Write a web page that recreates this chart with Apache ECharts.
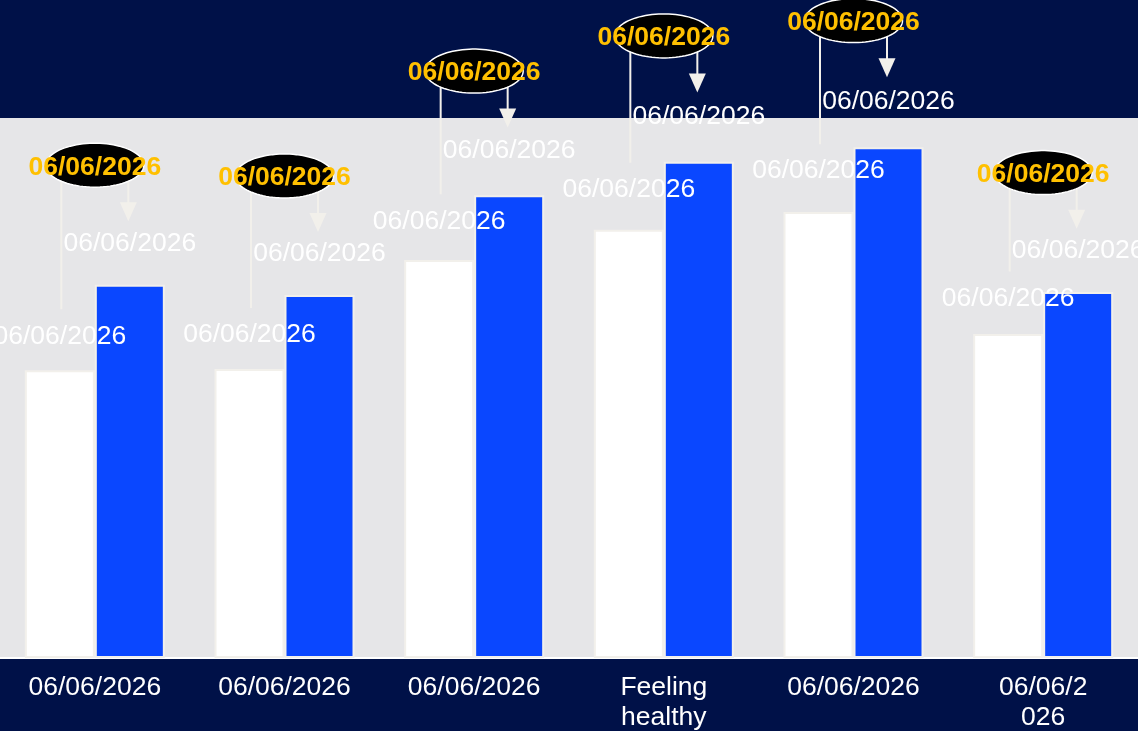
<!DOCTYPE html>
<html><head><meta charset="utf-8">
<script src="https://cdn.jsdelivr.net/npm/echarts@6/dist/echarts.min.js"></script>
<style>html,body{margin:0;padding:0;background:#001148;}#c{width:1138px;height:731px;}</style>
</head><body><div id="c"></div>
<script>
const categories = ['06/06/2026', '06/06/2026', '06/06/2026', 'Feeling\nhealthy', '06/06/2026', '06/06/2\n026'];
const whiteValues = [53.3, 53.5, 73.7, 79.3, 82.6, 60.0];
const blueValues = [69.1, 67.2, 85.7, 91.9, 94.6, 67.8];
const whiteLabels = ['06/06/2026', '06/06/2026', '06/06/2026', '06/06/2026', '06/06/2026', '06/06/2026'];
const blueLabels = ['06/06/2026', '06/06/2026', '06/06/2026', '06/06/2026', '06/06/2026', '06/06/2026'];
const calloutLabels = ['06/06/2026', '06/06/2026', '06/06/2026', '06/06/2026', '06/06/2026', '06/06/2026'];

const FONT = '"Liberation Sans", Arial, Helvetica, sans-serif';
const FS = 26.5;
const BAR_W = 70;
const PX_PER_UNIT = 5.4;
const OFFWHITE = '#F2F0EB';

function whiteItem(v) {
  const h = v * PX_PER_UNIT;
  return { value: v, label: { distance: 23.6 + 0.043 * h - 15.5 } };
}
function blueItem(v) {
  const h = v * PX_PER_UNIT;
  return { value: v, label: { distance: 31 + 0.033 * h - 15.5 } };
}

function renderItem(params, api) {
  const i = api.value(0);
  const w = api.value(1), b = api.value(2);
  const base = api.coord([i, 0]);
  const xC = base[0], y0 = base[1];
  const wTop = api.coord([i, w])[1];
  const bTop = api.coord([i, b])[1];
  const hB = y0 - bTop, hW = y0 - wTop;
  const half = 33.5;
  const xW = xC - half, xB = xC + half;
  const cy = bTop - (101 + 0.05 * hB);
  const rx = 49, ry = 22;
  const pts = [];
  for (let k = 0; k < 90; k++) {
    const t = k / 90 * 2 * Math.PI;
    pts.push([xC + rx * Math.cos(t), cy + ry * Math.sin(t)]);
  }
  const edge = ry * Math.sqrt(1 - Math.pow(half / rx, 2));
  const lineBottom = wTop - (23.6 + 0.043 * hW) - 25;
  const tipY = bTop - (46 + 0.047 * hB);
  return {
    type: 'group',
    children: [
      { type: 'line', shape: { x1: xW, y1: cy + edge, x2: xW, y2: lineBottom }, style: { stroke: OFFWHITE, lineWidth: 2 } },
      { type: 'line', shape: { x1: xB, y1: cy + edge, x2: xB, y2: tipY - 17 }, style: { stroke: OFFWHITE, lineWidth: 2 } },
      { type: 'polygon', shape: { points: [[xB - 8.5, tipY - 19], [xB + 8.5, tipY - 19], [xB, tipY]] }, style: { fill: OFFWHITE } },
      { type: 'polygon', shape: { points: pts }, style: { fill: '#000000', stroke: '#FFFFFF', lineWidth: 1.5 } },
      { type: 'text', x: xC, y: cy + 2, style: { text: calloutLabels[i], fill: '#FFC000', font: 'bold ' + FS + 'px ' + FONT, align: 'center', verticalAlign: 'middle' } }
    ]
  };
}

const chart = echarts.init(document.getElementById('c'), null, { renderer: 'canvas' });
chart.setOption({
  animation: false,
  backgroundColor: '#001148',
  grid: { left: 0, right: 0, top: 118, bottom: 73, show: true, backgroundColor: '#E6E6E8', borderWidth: 0,
    containLabel: false, outerBoundsMode: 'none' },
  xAxis: {
    type: 'category',
    data: categories,
    axisTick: { show: false },
    axisLine: { show: true, lineStyle: { color: '#FFFFFF', width: 2 } },
    axisLabel: { interval: 0, color: '#FFFFFF', fontSize: FS, lineHeight: 30, margin: 15, fontFamily: FONT }
  },
  yAxis: {
    type: 'value', min: 0, max: 100, show: false,
    splitLine: { show: false }
  },
  series: [
    {
      type: 'bar', barWidth: BAR_W, barGap: '0%',
      data: whiteValues.map(whiteItem),
      itemStyle: { color: '#FFFFFF', borderColor: OFFWHITE, borderWidth: 2 },
      label: { show: true, position: 'top', color: '#FFFFFF', fontSize: FS, fontFamily: FONT,
        formatter: p => whiteLabels[p.dataIndex] }
    },
    {
      type: 'bar', barWidth: BAR_W, barGap: '0%',
      data: blueValues.map(blueItem),
      itemStyle: { color: '#0A47FF', borderColor: OFFWHITE, borderWidth: 2 },
      label: { show: true, position: 'top', color: '#FFFFFF', fontSize: FS, fontFamily: FONT,
        formatter: p => blueLabels[p.dataIndex] }
    },
    {
      type: 'custom',
      renderItem: renderItem,
      encode: { x: 0, y: [1, 2] },
      data: categories.map((c, i) => [i, whiteValues[i], blueValues[i]]),
      z: 5,
      silent: true
    }
  ]
});
</script>
</body></html>
